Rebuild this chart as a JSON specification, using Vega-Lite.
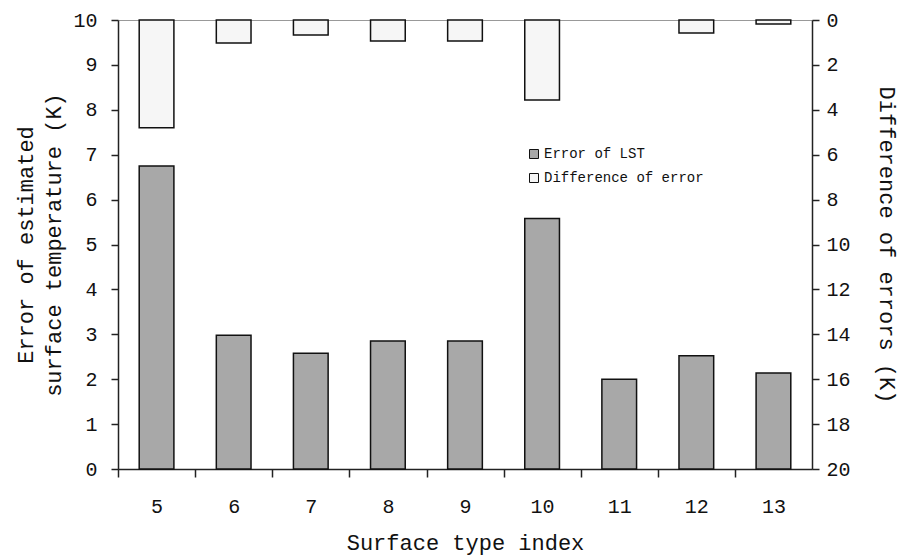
{
  "$schema": "https://vega.github.io/schema/vega-lite/v6.json",
  "width": 694,
  "height": 449,
  "autosize": {"type": "none"},
  "padding": {"left": 118, "top": 20, "right": 95, "bottom": 88},
  "config": {
    "font": "Liberation Mono",
    "view": {"stroke": "#999", "strokeWidth": 1},
    "axis": {
      "labelFont": "Liberation Mono",
      "titleFont": "Liberation Mono",
      "labelFontSize": 20,
      "titleFontSize": 22,
      "titleFontWeight": "normal",
      "labelColor": "#111",
      "titleColor": "#111",
      "domainColor": "#222",
      "tickColor": "#222",
      "domainWidth": 1.5,
      "tickWidth": 1.5,
      "grid": false
    },
    "legend": {"labelFont": "Liberation Mono"}
  },
  "data": {
    "values": [
      {"index": "5", "lst": 6.75, "diff": 4.8},
      {"index": "6", "lst": 2.98, "diff": 1.02},
      {"index": "7", "lst": 2.58, "diff": 0.67},
      {"index": "8", "lst": 2.85, "diff": 0.94},
      {"index": "9", "lst": 2.85, "diff": 0.94},
      {"index": "10", "lst": 5.58, "diff": 3.56},
      {"index": "11", "lst": 2.0, "diff": null},
      {"index": "12", "lst": 2.52, "diff": 0.58},
      {"index": "13", "lst": 2.14, "diff": 0.18}
    ]
  },
  "encoding": {
    "x": {
      "field": "index",
      "type": "ordinal",
      "sort": null,
      "scale": {"paddingInner": 0.55, "paddingOuter": 0.275},
      "axis": {
        "labelAngle": 0,
        "title": "Surface type index",
        "tickOffset": -38.5,
        "labelOffset": 38.5,
        "tickSize": 8,
        "labelPadding": 19,
        "titlePadding": 16
      }
    }
  },
  "layer": [
    {
      "mark": {"type": "bar", "stroke": "#111", "strokeWidth": 1.5},
      "encoding": {
        "y": {
          "field": "lst",
          "type": "quantitative",
          "scale": {"domain": [0, 10]},
          "axis": {
            "orient": "left",
            "values": [0, 1, 2, 3, 4, 5, 6, 7, 8, 9, 10],
            "tickSize": 7,
            "labelPadding": 14,
            "title": ["Error of estimated", "surface temperature (K)"],
            "titleLineHeight": 28,
            "titlePadding": 7
          }
        },
        "color": {
          "datum": "Error of LST",
          "scale": {"domain": ["Error of LST", "Difference of error"], "range": ["#a8a8a8", "#f6f6f6"]},
          "legend": {
            "orient": "none",
            "legendX": 409,
            "legendY": 127,
            "title": null,
            "symbolType": "square",
            "symbolSize": 81,
            "symbolStrokeColor": "#111",
            "symbolStrokeWidth": 1,
            "labelFontSize": 14,
            "labelColor": "#111",
            "labelLimit": 400,
            "rowPadding": 10,
            "labelOffset": 3
          }
        }
      }
    },
    {
      "mark": {"type": "bar", "stroke": "#111", "strokeWidth": 1.5},
      "encoding": {
        "y": {
          "field": "diff",
          "type": "quantitative",
          "scale": {"domain": [0, 20], "reverse": true},
          "axis": {
            "orient": "right",
            "values": [0, 2, 4, 6, 8, 10, 12, 14, 16, 18, 20],
            "tickSize": 7,
            "labelPadding": 7,
            "title": "Difference of errors (K)",
            "titlePadding": 24
          }
        },
        "color": {"datum": "Difference of error"}
      }
    }
  ],
  "resolve": {"scale": {"y": "independent"}}
}
